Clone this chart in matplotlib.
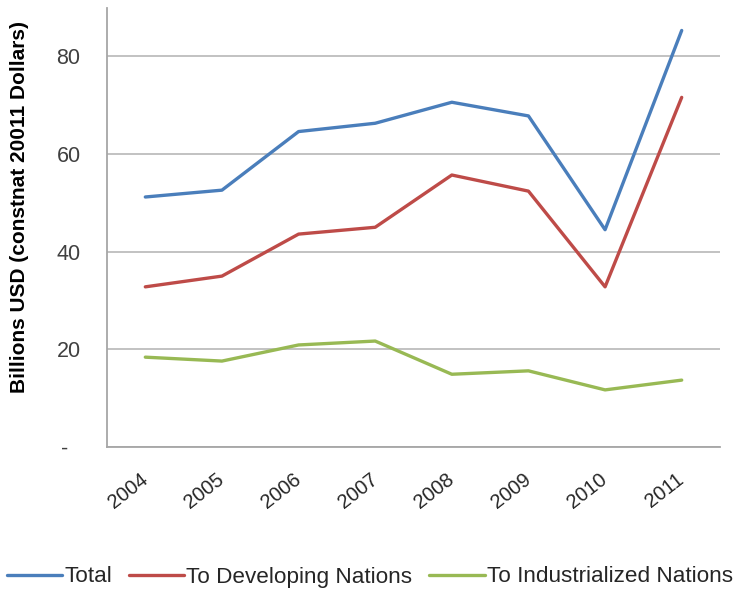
import matplotlib
matplotlib.use("Agg")
import matplotlib.pyplot as plt
from matplotlib import font_manager
from matplotlib.transforms import ScaledTranslation

years = ["2004", "2005", "2006", "2007", "2008", "2009", "2010", "2011"]
total = [51.2, 52.6, 64.6, 66.3, 70.6, 67.8, 44.5, 85.3]
developing = [32.8, 35.0, 43.6, 45.0, 55.7, 52.4, 32.8, 71.6]
industrialized = [18.4, 17.6, 20.9, 21.7, 14.9, 15.6, 11.7, 13.7]
series_names = ["Total", "To Developing Nations", "To Industrialized Nations"]
ytick_vals = [0, 20, 40, 60, 80]
ytick_labels = ["-  ", "20", "40", "60", "80"]

avail = {f.name for f in font_manager.fontManager.ttflist}
fams = [f for f in ["Liberation Sans Narrow", "Liberation Sans", "DejaVu Sans"] if f in avail]
plt.rcParams["font.family"] = fams

fig = plt.figure(figsize=(7.4, 5.92), dpi=100)
ax = fig.add_axes([0.1446, 0.2449, 0.9730 - 0.1446, 0.9873 - 0.2449])

x = list(range(len(years)))
colors = ["#4A7EBB", "#BE4B48", "#98B954"]
for vals, name, c in zip([total, developing, industrialized], series_names, colors):
    ax.plot(x, vals, color=c, lw=2.4, label=name, solid_joinstyle="round", solid_capstyle="round")

ax.set_xlim(-0.5, len(years) - 0.5)
ax.set_ylim(0, 90)
ax.set_yticks(ytick_vals)
ax.set_yticklabels(ytick_labels, fontsize=15.5, color="#404040")
ax.set_xticks(x)
ax.set_xticklabels(years, fontsize=14.5, color="#262626", rotation=38, ha="right",
                   va="center", rotation_mode="anchor")
offset = ScaledTranslation(-6 / 100, 0, fig.dpi_scale_trans)
for lab in ax.get_xticklabels():
    lab.set_transform(lab.get_transform() + offset)
ax.tick_params(axis="both", length=0)
ax.tick_params(axis="y", pad=19)
ax.tick_params(axis="x", pad=22)
ax.grid(axis="y", color="#BDBDBD", lw=1.3)
ax.set_axisbelow(True)
for s in ["top", "right"]:
    ax.spines[s].set_visible(False)
for s in ["left", "bottom"]:
    ax.spines[s].set_color("#A6A6A6")
    ax.spines[s].set_linewidth(1.3)

ax.set_ylabel("Billions USD (constnat 20011 Dollars)", fontsize=15, fontweight="bold",
              color="#000000")
ax.yaxis.set_label_coords(-0.127, 0.545)

fig.legend(loc="center", bbox_to_anchor=(0.5, 1 - 577 / 592), ncol=3, frameon=False,
           fontsize=16.2, handlelength=2.45, handletextpad=0.1, columnspacing=0.75,
           labelcolor="#262626")

fig.savefig("out.png", dpi=100)
